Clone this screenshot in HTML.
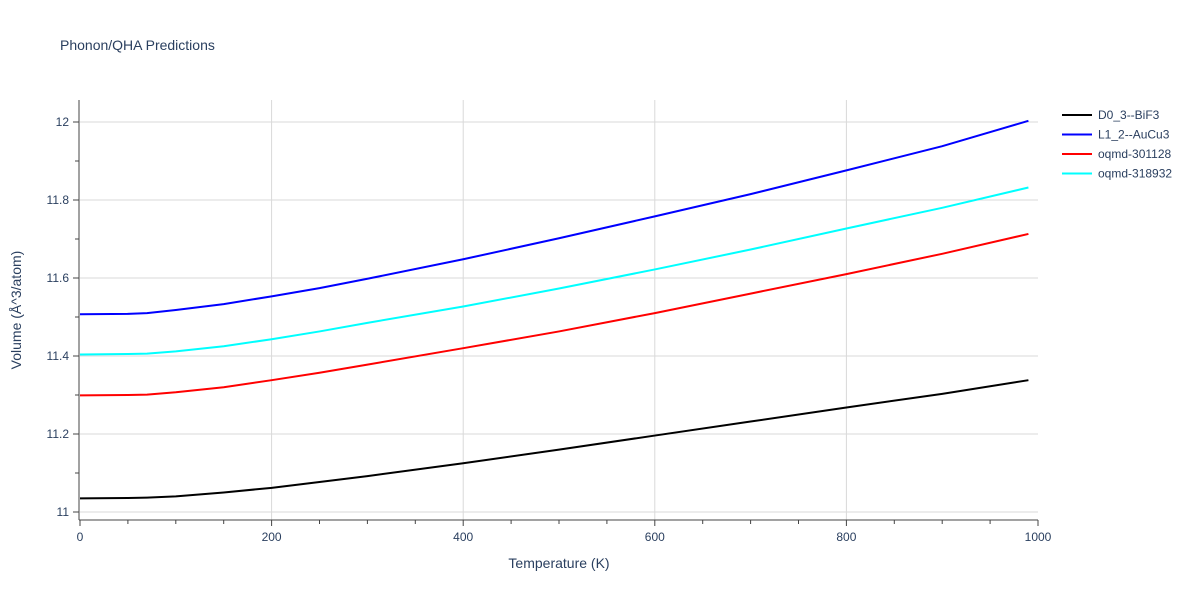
<!DOCTYPE html>
<html><head><meta charset="utf-8"><style>
body{margin:0;background:#fff;font-family:"Liberation Sans",sans-serif}
svg text{font-family:"Liberation Sans",sans-serif;fill:#2a3f5f}
</style></head><body>
<svg id="chart" width="1200" height="600" xmlns="http://www.w3.org/2000/svg">
<text x="60" y="50" font-size="14">Phonon/QHA Predictions</text>
<g id="grid"></g>
<g id="axes"></g>
<g id="series"></g>
<text x="559" y="568" font-size="14" text-anchor="middle">Temperature (K)</text>
<text transform="translate(21,310) rotate(-90)" font-size="14" text-anchor="middle">Volume (Å^3/atom)</text>
<g id="legend"></g>
</svg>
<script>
const temps=[0,50,70,100,150,200,250,300,400,500,600,700,800,900,990];
const seriesNames=["D0_3--BiF3","L1_2--AuCu3","oqmd-301128","oqmd-318932"];
const seriesColors=["#000000","#0000ff","#ff0000","#00ffff"];
const blackVals=[11.035,11.036,11.037,11.040,11.050,11.062,11.077,11.092,11.125,11.160,11.196,11.232,11.268,11.303,11.338];
const blueVals=[11.507,11.508,11.510,11.518,11.533,11.553,11.574,11.598,11.648,11.702,11.758,11.815,11.876,11.938,12.003];
const redVals=[11.299,11.300,11.301,11.307,11.320,11.338,11.357,11.378,11.420,11.463,11.510,11.560,11.610,11.662,11.713];
const cyanVals=[11.404,11.405,11.406,11.412,11.425,11.443,11.463,11.485,11.527,11.573,11.622,11.673,11.727,11.780,11.832];
const xTicks=[0,200,400,600,800,1000];
const yTicks=[11,11.2,11.4,11.6,11.8,12];
const allVals=[blackVals,blueVals,redVals,cyanVals];
const NS="http://www.w3.org/2000/svg";
const X=v=>80+(v)*0.958, Y=v=>512-(v-11)*390;
function mk(p,t,a){const e=document.createElementNS(NS,t);for(const k in a)e.setAttribute(k,a[k]);p.appendChild(e);return e;}
const grid=document.getElementById('grid'),axes=document.getElementById('axes'),ser=document.getElementById('series'),leg=document.getElementById('legend');
xTicks.forEach(t=>{if(t>0&&t<1000){const l=mk(grid,'line',{x1:X(t),x2:X(t),y1:100,y2:520,stroke:'#d9d9d9'});

}
const tx=mk(axes,'text',{x:X(t),y:541,'font-size':12,'text-anchor':'middle'});tx.textContent=t;

});
yTicks.forEach(t=>{const l=mk(grid,'line',{x1:80,x2:1038,y1:Y(t),y2:Y(t),stroke:'#d9d9d9'});


const tx=mk(axes,'text',{x:69,y:Y(t)+4,'font-size':12,'text-anchor':'end'});tx.textContent=t;

});
for(let t=0;t<=1000;t+=50)mk(axes,'line',{x1:X(t),x2:X(t),y1:520,y2:t%200==0?526:524,stroke:'#444'});
for(let v=11;v<=12.05;v+=0.1)mk(axes,'line',{x1:79,x2:Math.abs(((v-11)*10)%2)<0.01||Math.abs(((v-11)*10)%2-2)<0.01?73:75,y1:Y(v),y2:Y(v),stroke:'#444'});
mk(axes,'line',{x1:79,x2:79,y1:100,y2:520,stroke:'#444'});
mk(axes,'line',{x1:79,x2:1038,y1:520,y2:520,stroke:'#444'});
allVals.forEach((vals,i)=>{const p=mk(ser,'path',{d:vals.map((v,j)=>(j?'L':'M')+X(temps[j])+','+Y(v)).join(''),fill:'none',stroke:seriesColors[i],'stroke-width':2});


const g=mk(leg,'g',{});


const y=115+i*19.5;mk(g,'line',{x1:1062,x2:1092,y1:y,y2:y,stroke:seriesColors[i],'stroke-width':2});
const t=mk(g,'text',{x:1098,y:y+4,'font-size':12});t.textContent=seriesNames[i];});
</script>
</body></html>
